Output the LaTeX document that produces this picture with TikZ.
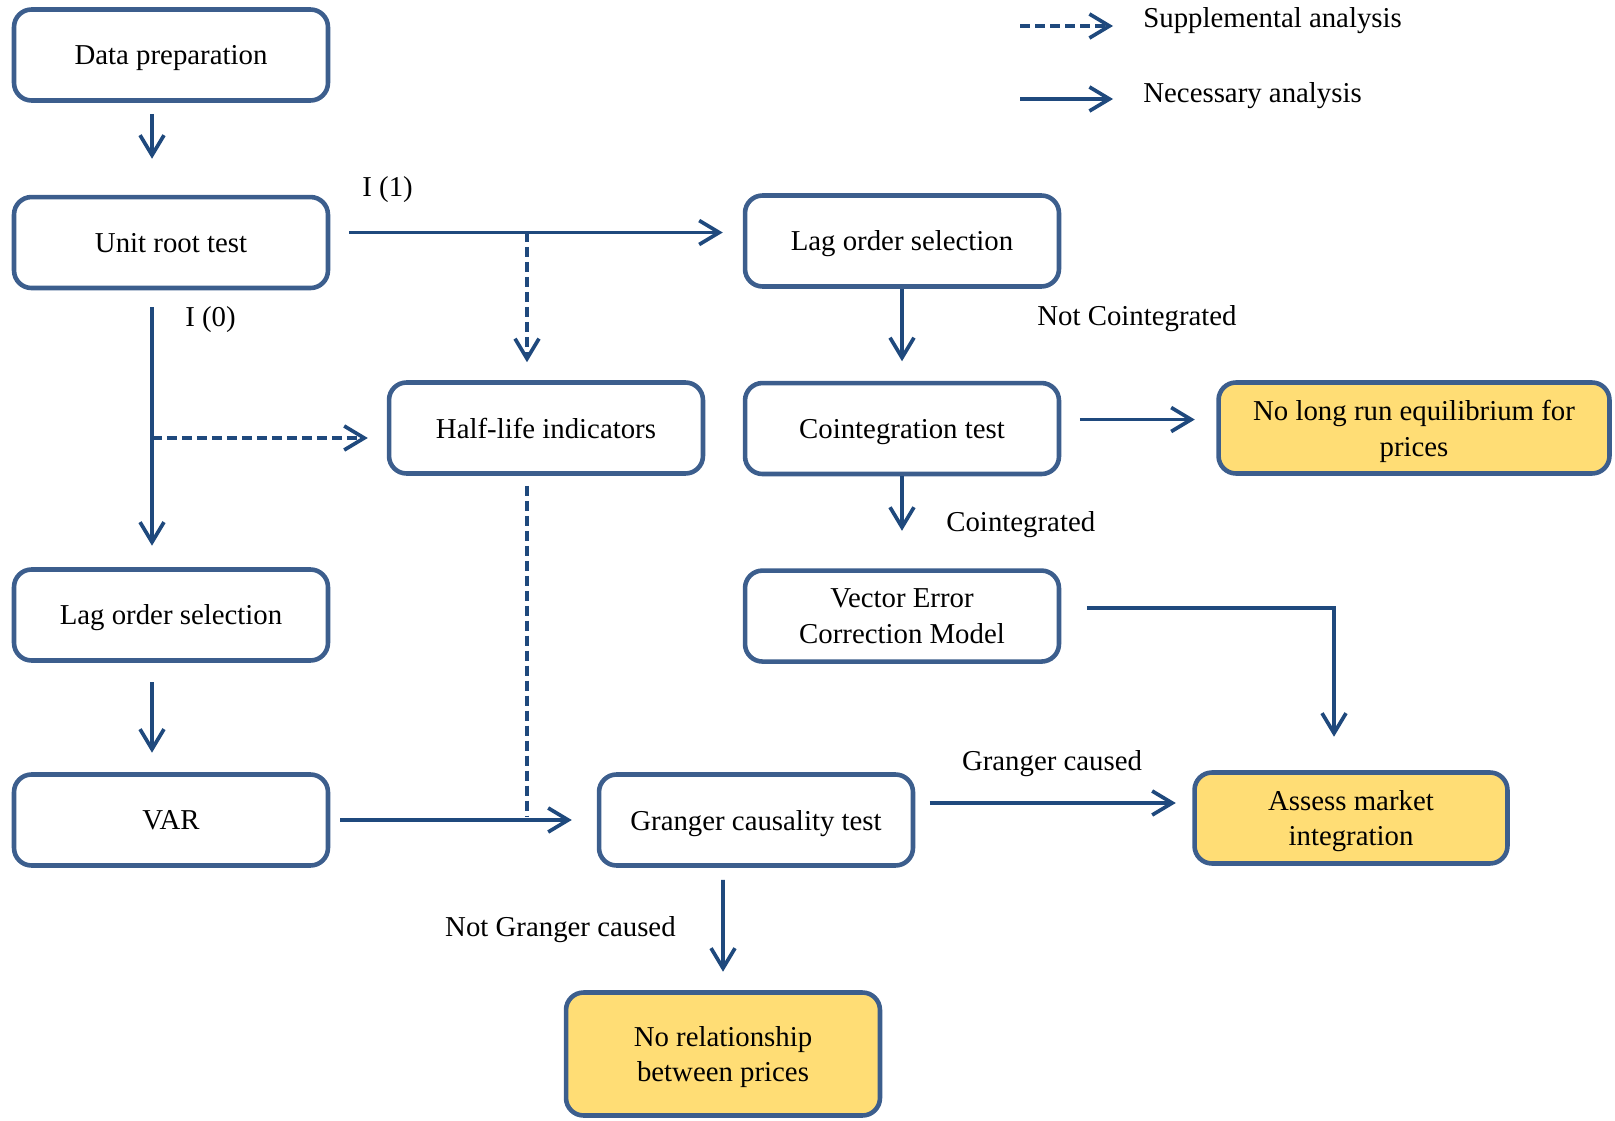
\documentclass[tikz,border=0pt]{standalone}
\usepackage{fontspec}
\setmainfont{Liberation Serif}
\usetikzlibrary{positioning,arrows.meta}

\definecolor{boxblue}{RGB}{60,94,141}
\definecolor{arrblue}{RGB}{31,73,125}
\definecolor{resyellow}{RGB}{255,221,117}

\tikzset{
  box/.style={draw=boxblue, line width=2.6pt, rounded corners=0.35cm, fill=white,
    minimum width=6.28cm, minimum height=1.82cm, align=center, inner sep=2pt,
    text depth=0pt, font=\fontsize{16.4}{20.4}\selectfont},
  result/.style={box, fill=resyellow},
  conn/.style={draw=arrblue, line width=2.1pt,
    -{Straight Barb[length=0.4cm,width=0.48cm]}},
  supp/.style={conn, dash pattern=on 0.2cm off 0.1cm},
  lbl/.style={anchor=base west, inner sep=0pt, font=\fontsize{16.4}{20.4}\selectfont}
}

\begin{document}
\begin{tikzpicture}[x=0.02cm, y=-0.02cm, node distance=1.84cm]
\useasboundingbox (0,0) rectangle (1615,1121);

% legend
\coordinate (s1) at (1020,26);
\coordinate (s2) at (1113,26);
\coordinate (n1) at (1020,99);
\coordinate (n2) at (1113,99);
\draw[supp] (s1) -- (s2);
\draw[conn] (n1) -- (n2);
\node[lbl] (legs) at (1143,28) {Supplemental analysis};
\node[lbl] (legn) at (1143,103) {Necessary analysis};

% boxes
\node[box] (dp) at (171,55) {Data preparation};
\node[box] (ur) [below=of dp] {Unit root test};
\node[box] (lagR) at (902,241) {Lag order selection};
\node[box] (coint) [below=of lagR] {Cointegration test};
\node[box] (vecm) [below=of coint] {Vector Error\\Correction Model};
\node[box] (hl) at (546,428) {Half-life indicators};
\node[result, minimum width=7.82cm] (nolr) at (1414,428) {No long run equilibrium for\\prices};
\node[box] (lagL) at (171,615) {Lag order selection};
\node[box] (var) at (171,820) {VAR};
\node[box] (gc) at (756,820) {Granger causality test};
\node[result, minimum width=6.26cm] (am) at (1351,818) {Assess market\\integration};
\node[result, minimum height=2.46cm] (norel) at (723,1054) {No relationship\\between prices};

% left part
\draw[conn, shorten <=0.22cm, shorten >=0.72cm] ([xshift=-0.38cm]dp.south) -- ([xshift=-0.38cm]ur.north);
\coordinate (j1) at (527,232);
\draw[conn, shorten <=0.38cm, shorten >=0.4cm] ([yshift=0.2cm]ur.east) -- ([yshift=0.2cm]ur.east -| lagR.west);
\node[lbl] (i1) at (362,197) {I (1)};
\draw[supp, shorten >=0.36cm] (j1) -- (j1 |- hl.north);
\draw[conn, shorten <=0.34cm, shorten >=0.43cm] ([xshift=-0.38cm]ur.south) -- ([xshift=-0.38cm]lagL.north);
\node[lbl] (i0) at (185,327) {I (0)};
\coordinate (j2) at (152,438);
\draw[supp, shorten >=0.38cm] (j2) -- (j2 -| hl.west);
\draw[conn, shorten <=0.39cm, shorten >=0.39cm] ([xshift=-0.38cm]lagL.south) -- ([xshift=-0.38cm]var.north);
\draw[conn, shorten <=0.2cm, shorten >=0.5cm] (var) -- (gc);
\coordinate (j3) at (527,816);
\draw[supp, -, shorten <=0.2cm] (hl.south -| j3) -- (j3);

% granger test
\draw[conn, shorten <=0.24cm, shorten >=0.37cm] ([xshift=-0.66cm]gc.south) -- (norel.north);
\node[lbl, anchor=base east] (ngc) at (676,936) {Not Granger caused};
\draw[conn, shorten <=0.29cm, shorten >=0.33cm] ([yshift=0.34cm]gc.east) -- ([yshift=0.34cm]gc.east -| am.west);
\node[lbl, anchor=base] (gcd) at (1052,770) {Granger caused};

% right part
\draw[conn, shorten >=0.39cm] (lagR) -- (coint);
\node[lbl] (nci) at (1037,326) {Not Cointegrated};
\draw[conn, shorten <=0.37cm, shorten >=0.43cm] ([yshift=0.18cm]coint.east) -- ([yshift=0.18cm]coint.east -| nolr.west);
\draw[conn, shorten >=0.75cm] (coint) -- (vecm);
\node[lbl] (ci) at (946,531) {Cointegrated};
\draw[conn, shorten <=0.51cm, shorten >=0.67cm] ([yshift=0.16cm]vecm.east) -| ([xshift=-0.34cm]am.north);
\end{tikzpicture}
\end{document}
